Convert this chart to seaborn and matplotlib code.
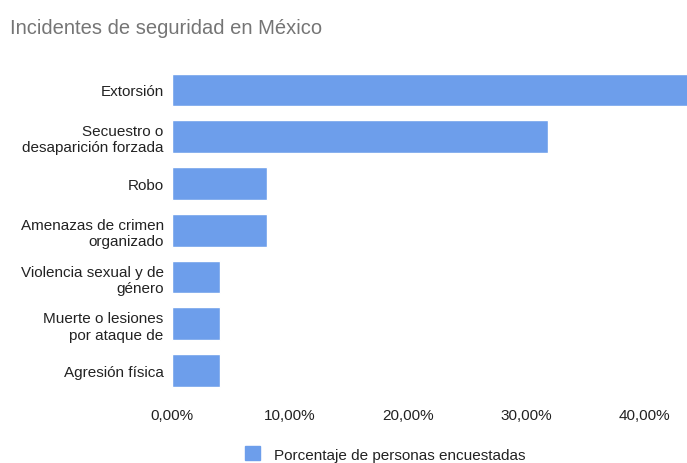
import pandas as pd
import seaborn as sns
import matplotlib.pyplot as plt
from matplotlib.ticker import FuncFormatter

# ======= datos
categorias = [
    "Extorsión",
    "Secuestro o\ndesaparición forzada",
    "Robo",
    "Amenazas de crimen\norganizado",
    "Violencia sexual y de\ngénero",
    "Muerte o lesiones\npor ataque de",
    "Agresión física",
]
porcentajes = [43.8, 31.9, 8.05, 8.05, 4.07, 4.07, 4.07]
serie = "Porcentaje de personas encuestadas"
ticks_x = [0, 10, 20, 30, 40]

df = pd.DataFrame({"categoria": categorias, "pct": porcentajes, "serie": serie})

sns.set_theme(style="white")
plt.rcParams["font.family"] = ["Liberation Sans", "DejaVu Sans"]

fig = plt.figure(figsize=(6.87, 4.64), dpi=100)
ax = fig.add_axes([172 / 687, 1 - 395 / 464, 1 - 172 / 687, (395 - 67.6) / 464])

sns.barplot(data=df, x="pct", y="categoria", hue="serie", palette=["#6d9eeb"],
            orient="h", width=0.7, ax=ax, legend=False, saturation=1)

ax.set_xlim(0, 515 / 11.8)
ax.set_xticks(ticks_x)
ax.xaxis.set_major_formatter(FuncFormatter(lambda v, p: f"{v:.2f}%".replace(".", ",")))
ax.tick_params(axis="x", labelsize=11, colors="#222222", pad=10, length=0)
ax.tick_params(axis="y", labelsize=11, colors="#222222", pad=6, length=0)
for lab in ax.get_yticklabels():
    lab.set_multialignment("right")
ax.set_xlabel("")
ax.set_ylabel("")
sns.despine(ax=ax, left=True, bottom=True)

fig.text(10 / 687, 1 - 29 / 464, "Incidentes de seguridad en México", fontsize=14.5,
         color="#757575", va="center", ha="left")

handle = plt.Rectangle((0, 0), 1, 1, color="#6d9eeb")
fig.legend([handle], [serie], loc="center", bbox_to_anchor=(385 / 687, 1 - 455 / 464),
           frameon=False, fontsize=11, handlelength=1.0, handleheight=1.0,
           handletextpad=0.9, labelcolor="#222222")

fig.savefig("out.png", dpi=100)
